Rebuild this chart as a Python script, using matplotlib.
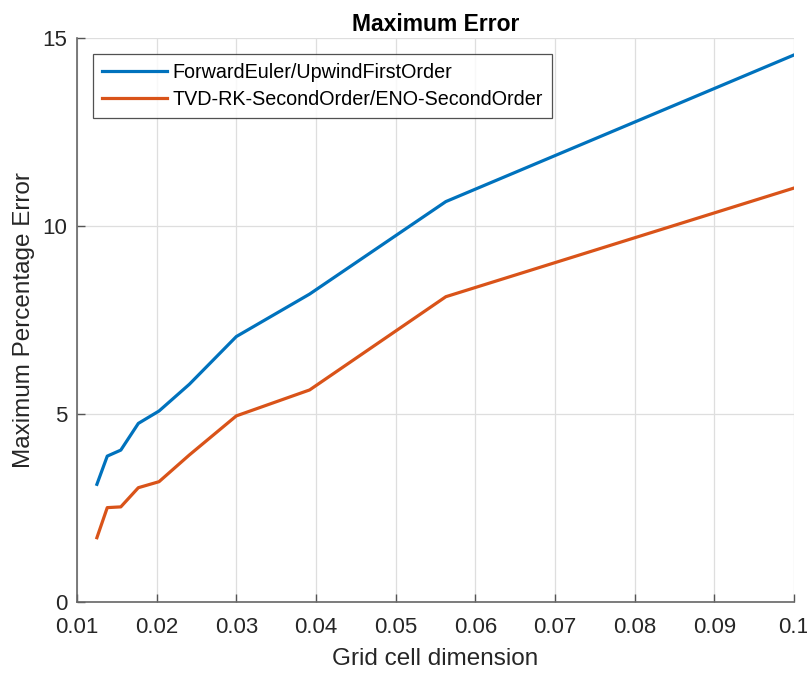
import numpy as np
import matplotlib.pyplot as plt

plt.rcParams['font.family'] = ['Liberation Sans', 'DejaVu Sans']

# grid cell dimension (x) and maximum percentage error of each scheme
dx = [0.0125, 0.0138, 0.0155, 0.0177, 0.0203, 0.0241, 0.0300, 0.0392, 0.0563, 0.1000]
err_euler = [3.13, 3.88, 4.04, 4.75, 5.08, 5.79, 7.06, 8.19, 10.65, 14.55]
err_tvd = [1.71, 2.51, 2.53, 3.04, 3.20, 3.91, 4.95, 5.64, 8.12, 11.01]
labels = ['ForwardEuler/UpwindFirstOrder', 'TVD-RK-SecondOrder/ENO-SecondOrder']

xticks = [0.01, 0.02, 0.03, 0.04, 0.05, 0.06, 0.07, 0.08, 0.09, 0.1]
xticklabels = ['0.01', '0.02', '0.03', '0.04', '0.05', '0.06', '0.07', '0.08', '0.09', '0.1']
yticks = [0, 5, 10, 15]

fig = plt.figure(figsize=(8.07, 6.73), dpi=100)
ax = fig.add_axes([0.0954, 0.1055, 0.8885, 0.838])

ax.plot(dx, err_euler, color='#0072BD', lw=2.3, label=labels[0])
ax.plot(dx, err_tvd, color='#D95319', lw=2.3, label=labels[1])

ax.set_xlim(0.01, 0.1)
ax.set_ylim(0, 15)
ax.set_xticks(xticks)
ax.set_xticklabels(xticklabels)
ax.set_yticks(yticks)

ax.grid(True, color='#dedede', lw=0.9)
ax.set_axisbelow(True)
for s in ['top', 'right']:
    ax.spines[s].set_visible(False)
for s in ['left', 'bottom']:
    ax.spines[s].set_color('#666666')
    ax.spines[s].set_linewidth(1.2)
ax.tick_params(direction='in', length=6, width=1, colors='#555555',
               labelcolor='#262626', labelsize=16)
ax.tick_params(axis='x', pad=11)
ax.tick_params(axis='y', pad=7)

ax.set_xlabel('Grid cell dimension', fontsize=17.5, color='#262626', labelpad=7)
ax.set_ylabel('Maximum Percentage Error', fontsize=17.5, color='#262626', labelpad=5)
ax.set_title('Maximum Error', fontsize=16.5, fontweight='bold', pad=5)

leg = ax.legend(loc='upper left', bbox_to_anchor=(0.022, 0.971), fontsize=14.2,
                frameon=True, fancybox=False, edgecolor='#262626',
                handlelength=3.3, handletextpad=0.3, borderpad=0.45,
                labelspacing=0.4, borderaxespad=0)
leg.get_frame().set_linewidth(0.9)

fig.savefig('out.png', dpi=100)
